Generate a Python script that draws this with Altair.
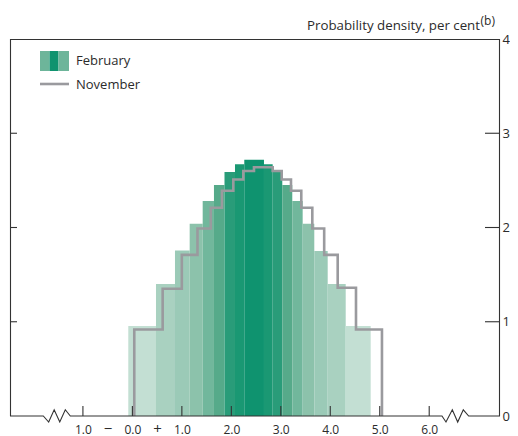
import altair as alt
import pandas as pd

# ---------------- data ----------------
# February: coloured bars (each 5% band, centre band 10%)
feb_edges = [-0.083, 0.477, 0.861, 1.158, 1.421, 1.649, 1.862, 2.074, 2.262,
             2.660, 2.836, 3.030, 3.232, 3.442, 3.677, 3.948, 4.312, 4.817]
feb_density = [0.955, 1.40, 1.755, 2.04, 2.28, 2.45, 2.59, 2.67, 2.72,
               2.67, 2.59, 2.45, 2.28, 2.04, 1.75, 1.40, 0.955]
feb_band = [1, 2, 3, 4, 5, 6, 7, 8, 9, 8, 7, 6, 5, 4, 3, 2, 1]
band_colors = ["#c3dfd3", "#a9d1c0", "#9bcab7", "#8cc2ab", "#71b79c",
               "#56aa8a", "#299c79", "#1a9873", "#0f936f"]

# November: grey step outline
nov_edges = [0.038, 0.612, 0.999, 1.316, 1.585, 1.811, 2.040, 2.242, 2.458,
             2.836, 3.018, 3.206, 3.414, 3.637, 3.877, 4.150, 4.520, 5.045]
nov_density = [0.917, 1.35, 1.71, 1.99, 2.21, 2.39, 2.51, 2.60, 2.64,
               2.60, 2.51, 2.39, 2.21, 1.99, 1.71, 1.36, 0.917]

# axes
x_domain = [-2.474, 7.431]
y_domain = [0, 4]
x_label_values = [-1, -0.5, 0, 0.5, 1, 2, 3, 4, 5, 6]
x_label_texts = ["1.0", "\u2212", "0.0", "+", "1.0", "2.0", "3.0", "4.0", "5.0", "6.0"]
x_tick_values = [-1, 0, 1, 2, 3, 4, 5, 6]
y_tick_values = [0, 1, 2, 3, 4]
y_inner_ticks = [1, 2, 3]

# x-axis line with the two scale-break zigzags
axis_path_x = [-2.474, -1.801, -1.692, -1.581, -1.468, -1.356, -1.255,
               6.258, 6.339, 6.467, 6.576, 6.689, 6.798, 7.431]
axis_path_y = [0, 0, -0.064, 0.066, -0.064, 0.066, 0,
               0, -0.064, 0.066, -0.064, 0.066, 0, 0]

title_text = "Probability density, per cent"
title_note = "(b)"
legend_labels = ["February", "November"]

# ---------------- styling ----------------
W, H = 490, 377
FONT = "Open Sans"
TXT = "#2b2b2b"
AX = "#333333"
GREY = "#9a9a9e"

xs = alt.Scale(domain=x_domain, nice=False, zero=False)
ys = alt.Scale(domain=y_domain, nice=False, zero=False)

label_expr = ""
for v, t in zip(x_label_values, x_label_texts):
    label_expr += f"datum.value == {v} ? '{t}' : "
label_expr += "''"

X_AXIS = alt.Axis(values=x_label_values, labelExpr=label_expr,
                  domain=False, ticks=False, tickSize=0, grid=False,
                  labelPadding=17, labelBaseline="alphabetic",
                  labelFontSize={"condition": {"test": "abs(datum.value) == 0.5",
                                               "value": 15},
                                 "value": 12},
                  labelColor=TXT, labelFont=FONT,
                  labelFlush=False, labelOverlap=False)
Y_AXIS = alt.Axis(orient="right", values=y_tick_values, format="d",
                  domain=False, ticks=False, tickSize=0, grid=False,
                  labelPadding=2, labelFontSize=13, labelColor=TXT,
                  labelFont=FONT, labelFlush=False)


def X(f):
    return alt.X(f, scale=xs, axis=X_AXIS, title=None)


def Y(f):
    return alt.Y(f, scale=ys, axis=Y_AXIS, title=None)


# ---------------- tables ----------------
feb_df = pd.DataFrame({
    "x0": feb_edges[:-1], "x1": feb_edges[1:],
    "h": feb_density, "band": feb_band,
})

nx, ny = [nov_edges[0]], [0]
for i, h in enumerate(nov_density):
    nx += [nov_edges[i], nov_edges[i + 1]]
    ny += [h, h]
nx.append(nov_edges[-1]); ny.append(0)
nov_df = pd.DataFrame({"x": nx, "y": ny, "o": list(range(len(nx)))})

axis_df = pd.DataFrame({"x": axis_path_x, "y": axis_path_y,
                        "o": list(range(len(axis_path_x)))})
xt_df = pd.DataFrame({"v": x_tick_values})
yt_df = pd.DataFrame({"v": y_inner_ticks})
one = pd.DataFrame({"a": [0]})

# ---------------- layers ----------------
bars = alt.Chart(feb_df).mark_rect().encode(
    x=X("x0:Q"), x2="x1:Q",
    y=Y("h:Q"), y2=alt.datum(0),
    color=alt.Color("band:O", scale=alt.Scale(domain=list(range(1, 10)),
                                              range=band_colors), legend=None),
)

nov = alt.Chart(nov_df).mark_line(color=GREY, strokeWidth=2.6,
                                  strokeJoin="miter", strokeCap="butt").encode(
    x=X("x:Q"), y=Y("y:Q"), order="o:Q",
)

axis_line = alt.Chart(axis_df).mark_line(color=AX, strokeWidth=1.1,
                                         clip=False).encode(
    x=X("x:Q"), y=Y("y:Q"), order="o:Q",
)

x_ticks = alt.Chart(xt_df).mark_rule(color=AX, strokeWidth=1.1).encode(
    x=X("v:Q"), y=alt.value(H), y2=alt.value(H - 10),
)
y_ticks_left = alt.Chart(yt_df).mark_rule(color=AX, strokeWidth=1.1).encode(
    y=Y("v:Q"), x=alt.value(0), x2=alt.value(7),
)
y_ticks_right = alt.Chart(yt_df).mark_rule(color=AX, strokeWidth=1.1).encode(
    y=Y("v:Q"), x=alt.value(W - 15), x2=alt.value(W),
)

frame_left = alt.Chart(one).mark_rule(color=AX, strokeWidth=1.1).encode(
    x=alt.value(0.5), y=alt.value(0), y2=alt.value(H))
frame_right = alt.Chart(one).mark_rule(color=AX, strokeWidth=1.1).encode(
    x=alt.value(W - 0.5), y=alt.value(0), y2=alt.value(H))
frame_top = alt.Chart(one).mark_rule(color=AX, strokeWidth=1.1).encode(
    x=alt.value(0), x2=alt.value(W), y=alt.value(0.5))

# legend
sw1 = alt.Chart(one).mark_rect(color="#6db59a").encode(
    x=alt.value(30), x2=alt.value(39.5), y=alt.value(12), y2=alt.value(32))
sw2 = alt.Chart(one).mark_rect(color="#0f936f").encode(
    x=alt.value(39.5), x2=alt.value(48.5), y=alt.value(12), y2=alt.value(32))
sw3 = alt.Chart(one).mark_rect(color="#6db59a").encode(
    x=alt.value(48.5), x2=alt.value(59), y=alt.value(12), y2=alt.value(32))
leg_line = alt.Chart(one).mark_rule(color=GREY, strokeWidth=2.6).encode(
    x=alt.value(30), x2=alt.value(59), y=alt.value(45))
leg_t1 = alt.Chart(one).mark_text(align="left", baseline="alphabetic",
                                  font=FONT, fontSize=13, color=TXT).encode(
    x=alt.value(66), y=alt.value(26), text=alt.value(legend_labels[0]))
leg_t2 = alt.Chart(one).mark_text(align="left", baseline="alphabetic",
                                  font=FONT, fontSize=13, color=TXT).encode(
    x=alt.value(66), y=alt.value(50), text=alt.value(legend_labels[1]))

# y-axis title at top right
ttl = alt.Chart(one).mark_text(align="right", baseline="alphabetic",
                               font=FONT, fontSize=13.3, color=TXT).encode(
    x=alt.value(470), y=alt.value(-9), text=alt.value(title_text))
ttl_note = alt.Chart(one).mark_text(align="left", baseline="alphabetic",
                                    font=FONT, fontSize=12, color=TXT).encode(
    x=alt.value(470.5), y=alt.value(-14.5), text=alt.value(title_note))

chart = alt.layer(
    bars, nov, x_ticks, y_ticks_left, y_ticks_right, axis_line,
    frame_left, frame_right, frame_top,
    sw1, sw2, sw3, leg_line, leg_t1, leg_t2, ttl, ttl_note,
).properties(
    width=W, height=H,
    padding={"left": 2, "top": 31, "right": 10, "bottom": 24},
    autosize=alt.AutoSizeParams(type="none"),
    background="white",
).configure_view(stroke=None).configure_text(font=FONT)

chart.save("out.html", embed_options={"renderer": "svg", "actions": False})
